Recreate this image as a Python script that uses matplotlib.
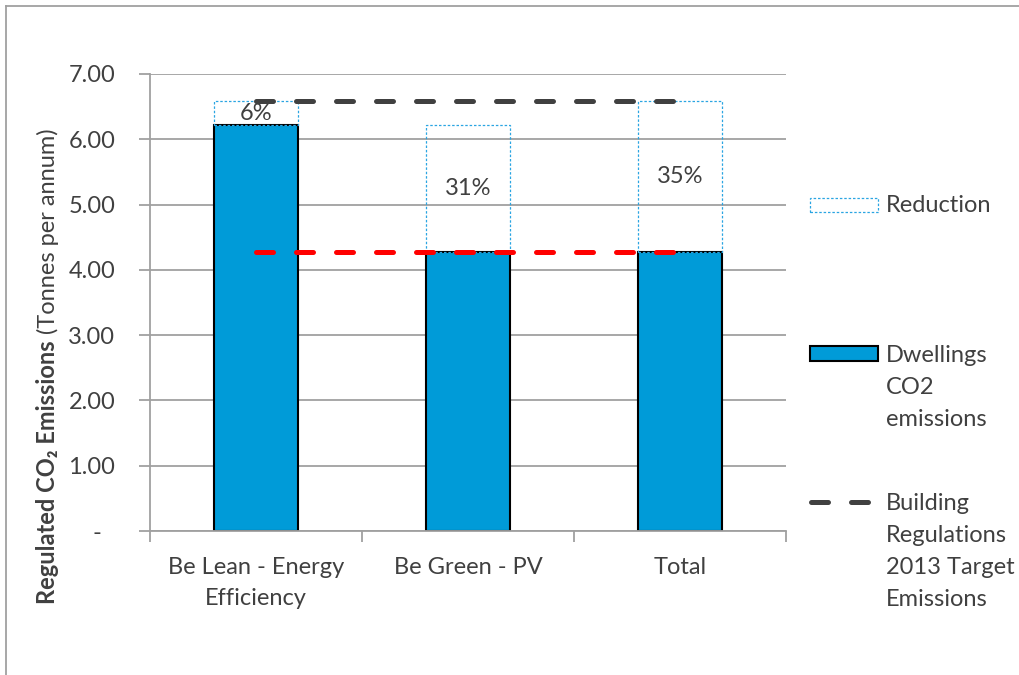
import matplotlib
matplotlib.use("Agg")
import matplotlib.pyplot as plt
from matplotlib.lines import Line2D
from matplotlib.patches import Rectangle

# ---- data ----
categories = ["Be Lean - Energy\nEfficiency", "Be Green - PV", "Total"]
emissions = [6.22, 4.28, 4.28]          # Dwellings CO2 emissions
reduction = [0.36, 1.94, 2.30]          # Reduction (stacked on top)
reduction_labels = ["6%", "31%", "35%"]
target = 6.58                            # Building Regulations 2013 Target Emissions
final_emissions = 4.28                   # red dashed line
yticks = [0, 1, 2, 3, 4, 5, 6, 7]
ytick_labels = ["-  \u200a", "1.00", "2.00", "3.00", "4.00", "5.00", "6.00", "7.00"]

plt.rcParams['font.family'] = ['Lato', 'DejaVu Sans']

W, H = 1019, 675
TXT = '#404040'
GRID = '#A0A0A0'
BLUE = '#009BD8'
LBLUE = '#2AA5E2'
FS = 17

fig = plt.figure(figsize=(W / 100, H / 100), dpi=100)
ax = fig.add_axes([150 / W, 1 - 531 / H, 636 / W, 457 / H])

x = list(range(len(categories)))
ax.bar(x, emissions, width=0.4, color=BLUE, edgecolor='black', linewidth=1.5, zorder=2)
ax.bar(x, reduction, bottom=emissions, width=0.4, facecolor='none', edgecolor=LBLUE,
       linewidth=0.9, linestyle=(0, (2, 1.5)), zorder=3)

ax.plot([x[0], x[-1]], [target, target], color='#404040', lw=3.6, dashes=(3.4, 4.6),
        dash_capstyle='round', zorder=5)
ax.plot([x[0], x[-1]], [final_emissions, final_emissions], color='#FF0000', lw=3.6,
        dashes=(3.4, 4.6), dash_capstyle='round', zorder=5)

for i, lbl in enumerate(reduction_labels):
    ax.text(x[i], emissions[i] + reduction[i] / 2, lbl, ha='center', va='center',
            fontsize=FS, color=TXT, zorder=6)

ax.set_xlim(-0.5, len(categories) - 0.5)
ax.set_ylim(0, 7)
ax.set_yticks(yticks)
ax.set_yticklabels(ytick_labels)
ax.yaxis.grid(True, color=GRID, lw=1.3)
ax.set_axisbelow(True)
for s in ['top', 'right']:
    ax.spines[s].set_visible(False)
for s in ['left', 'bottom']:
    ax.spines[s].set_color(GRID)
    ax.spines[s].set_linewidth(1.3)
ax.tick_params(axis='y', length=8, width=1.3, color=GRID, pad=17, labelsize=FS, labelcolor=TXT)

ax.set_xticks([-0.5, 0.5, 1.5, 2.5])
ax.set_xticklabels([])
ax.set_xticks(x, minor=True)
ax.set_xticklabels(categories, minor=True)
ax.tick_params(axis='x', which='major', length=8, width=1.3, color=GRID)
ax.tick_params(axis='x', which='minor', length=0, pad=19, labelsize=FS, labelcolor=TXT)
for t in ax.get_xticklabels(minor=True):
    t.set_linespacing(1.55)

# y label: bold part + normal part
t1 = fig.text(48 / W, 1 - 604 / H, "Regulated CO\u2082 Emissions", rotation=90,
              ha='center', va='bottom', fontweight='bold', fontsize=FS, color=TXT)
ax.annotate(" (Tonnes per annum)", xy=(0.5, 1), xycoords=t1, rotation=90,
            ha='center', va='bottom', fontsize=FS, color=TXT, annotation_clip=False)

# legend (manual)
def fy(y):
    return 1 - y / H

fig.add_artist(Rectangle((810 / W, fy(212)), 68 / W, 14 / H, transform=fig.transFigure,
                         facecolor='none', edgecolor=LBLUE, lw=0.9, linestyle=(0, (2, 1.5))))
fig.add_artist(Rectangle((810 / W, fy(361)), 68 / W, 15 / H, transform=fig.transFigure,
                         facecolor=BLUE, edgecolor='black', lw=1.5))
fig.add_artist(Line2D([810.5 / W, 868.5 / W], [fy(502), fy(502)], transform=fig.transFigure,
                      color='#404040', lw=3.6, dashes=(3.4, 4.6), dash_capstyle='round'))

legend_lines = [("Reduction", 206),
                ("Dwellings", 355), ("CO2", 388), ("emissions", 420),
                ("Building", 503), ("Regulations", 536), ("2013 Target", 568), ("Emissions", 599)]
for txt, yy in legend_lines:
    fig.text(886 / W, fy(yy), txt, ha='left', va='center', fontsize=FS, color=TXT)

# chart border (top and left)
fig.add_artist(Line2D([6 / W, 1.1], [fy(6), fy(6)], transform=fig.transFigure,
                      color='#A0A0A0', lw=1.3))
fig.add_artist(Line2D([6 / W, 6 / W], [fy(6), -0.1], transform=fig.transFigure,
                      color='#A0A0A0', lw=1.3))

fig.savefig("out.png", dpi=100)
